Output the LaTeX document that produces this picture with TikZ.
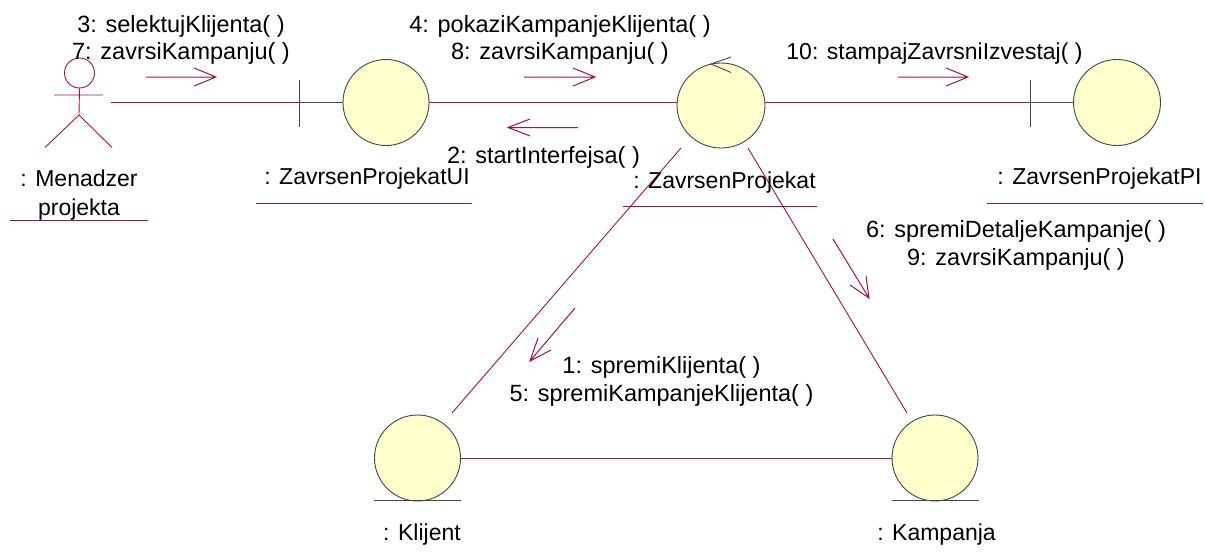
\documentclass[tikz,border=0pt]{standalone}
\usepackage{fontspec}
\setmainfont{Liberation Sans}
\usetikzlibrary{shapes.geometric}
\definecolor{lnk}{RGB}{165,20,70}
\definecolor{fillc}{RGB}{255,255,204}
\definecolor{dk}{RGB}{70,70,70}
\tikzset{
  lbl/.style={inner sep=0pt,align=center,font=\fontsize{23.5}{27.5}\selectfont,text=black},
  nm/.style={inner sep=0pt,align=center,font=\fontsize{23}{29}\selectfont,text=black},
  obj/.style={ellipse,draw=dk,fill=fillc,line width=.9pt,minimum width=86pt,minimum height=86pt,inner sep=0pt},
  linkl/.style={draw=lnk,line width=.9pt},
  dkl/.style={draw=dk,line width=.9pt},
  msg/.style={draw=lnk,line width=1pt},
}
\begin{document}
\begin{tikzpicture}[x=1pt,y=-1pt]
\useasboundingbox (0,0) rectangle (1205,554);
\fill[white] (0,0) rectangle (1205,554);
% links
\coordinate (actR) at (111,102.5);
\coordinate (uiT) at (299,102.5);
\coordinate (piT) at (1030.5,102.5);
\node[obj] (ui) at (386,102.5) {};
\node[obj,minimum width=88pt,minimum height=85pt] (zp) at (721,105.5) {};
\node[obj,minimum width=87pt] (pi) at (1117,102.5) {};
\node[obj] (kl) at (417.5,458) {};
\node[obj] (ka) at (935,458) {};
\draw[linkl] (actR) -- (uiT);
\draw[dkl] (uiT) -- (ui.west);
\draw[dkl] (299,80) -- (299,126.5);
\draw[linkl] (ui.east) -- (zp.west |- ui.east);
\draw[linkl] (zp.east |- pi.west) -- (piT);
\draw[dkl] (piT) -- (pi.west);
\draw[dkl] (1030.5,80) -- (1030.5,126.5);
\coordinate (zpa) at (681,148); \coordinate (kla) at (452,413);
\coordinate (zpb) at (748,148); \coordinate (kab) at (907,413);
\draw[linkl] (zpa) -- (kla);
\draw[linkl] (zpb) -- (kab);
\draw[linkl] (kl.east) -- (ka.west);
\draw[dkl] (374,500.7) -- (461,500.7);
\draw[dkl] (892,500.7) -- (979,500.7);
% actor
\node[circle,draw=lnk,line width=.9pt,minimum size=30pt,inner sep=0pt] (head) at (79.5,73) {};
\draw[linkl] (head.south) -- (79,115) (54,95) -- (103,95) (45,147.5) -- (79,115) -- (112,147.5);
% self arrow
\draw[dkl] (731,57) -- (711,64) -- (731,72.5);
% messages
\draw[msg] (146,77) -- (216,77) (194,68) -- (216,77) -- (194,86);
\draw[msg] (524,77) -- (595,77) (573,68) -- (595,77) -- (573,86);
\draw[msg] (578,127.5) -- (508,127.5) (530,119) -- (508,127.5) -- (530,136);
\draw[msg] (898,77) -- (968,77) (946,68) -- (968,77) -- (946,86);
\draw[msg] (833,239) -- (869,298) (866,276) -- (869,298) -- (850,285);
\draw[msg] (575,308) -- (530,361) (538,338) -- (530,361) -- (551,350);
% labels
\node[lbl] (l3) at (181,40) {3: selektujKlijenta( )\\7: zavrsiKampanju( )};
\node[lbl] (l4) at (560,40) {4: pokaziKampanjeKlijenta( )\\8: zavrsiKampanju( )};
\node[lbl] (l2) at (543.5,157) {2: startInterfejsa( )};
\node[lbl,font=\fontsize{23}{27.5}\selectfont] (l10) at (934.5,53.5) {10: stampajZavrsniIzvestaj( )};
\node[lbl] (l6) at (1016,245.5) {6: spremiDetaljeKampanje( )\\9: zavrsiKampanju( )};
\node[lbl] (l1) at (661.5,381.5) {1: spremiKlijenta( )\\5: spremiKampanjeKlijenta( )};
\node[nm] (m) at (79,195.5) {: Menadzer\\projekta};
\node[nm] (nui) at (367,179) {: ZavrsenProjekatUI};
\node[nm] (nzp) at (724.5,183) {: ZavrsenProjekat};
\node[nm] (npi) at (1099.5,179) {: ZavrsenProjekatPI};
\node[nm] (nkl) at (422,535) {: Klijent};
\node[nm] (nka) at (936.5,535) {: Kampanja};
% underlines
\draw[linkl] (10,220) -- (148,220);
\draw[linkl] (256,203) -- (472,203);
\draw[linkl] (623,206) -- (817,206);
\draw[linkl] (987,203) -- (1203,203);
\end{tikzpicture}
\end{document}
